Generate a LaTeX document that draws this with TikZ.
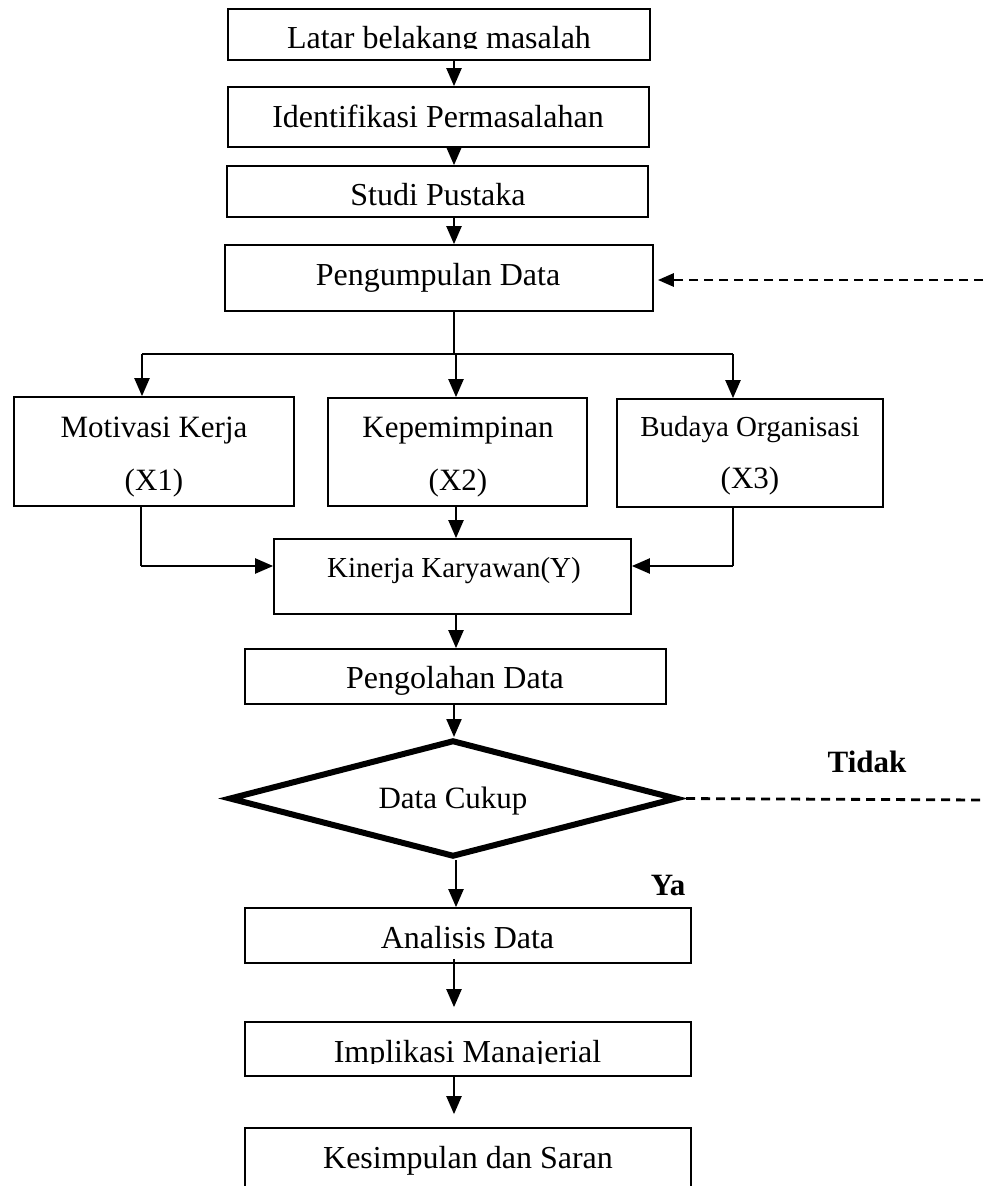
\documentclass[tikz,border=0pt]{standalone}
\usepackage{fontspec}
\setmainfont{Liberation Serif}
\usetikzlibrary{arrows.meta,shapes.geometric}
\begin{document}
\begin{tikzpicture}[x=1pt,y=-1pt,
  boxstyle/.style={draw,line width=1.7pt,inner sep=0pt},
  lbl/.style={anchor=base,inner sep=0pt,font=\fontsize{32}{38}\selectfont},
  lblmid/.style={anchor=base,inner sep=0pt,font=\fontsize{31}{37}\selectfont},
  lblsm/.style={anchor=base,inner sep=0pt,font=\fontsize{29}{35}\selectfont},
  lblbold/.style={anchor=base,inner sep=0pt,font=\fontsize{31}{37}\selectfont\bfseries},
  line/.style={line width=2.2pt},
  arr/.style={line width=2.2pt,-{Triangle[length=18pt,width=15pt]}},
  dashline/.style={line width=2.8pt,dash pattern=on 9pt off 6pt}]
\useasboundingbox (0,0) rectangle (983,1186);
\clip (0,0) rectangle (983,1186);
% boxes
\node[boxstyle,minimum width=422pt,minimum height=51pt] (b1) at (439,34.5) {};
\node[boxstyle,minimum width=421pt,minimum height=60pt] (b2) at (438.5,117) {};
\node[boxstyle,minimum width=421pt,minimum height=51pt] (b3) at (437.5,191.5) {};
\node[boxstyle,minimum width=428pt,minimum height=66pt] (b4) at (439,278) {};
\node[boxstyle,minimum width=280pt,minimum height=109pt] (x1) at (154,451.5) {};
\node[boxstyle,minimum width=259pt,minimum height=108pt] (x2) at (457.5,452) {};
\node[boxstyle,minimum width=266pt,minimum height=108pt] (x3) at (750,453) {};
\node[boxstyle,minimum width=357pt,minimum height=75pt] (ky) at (452.5,576.5) {};
\node[boxstyle,minimum width=421pt,minimum height=55pt] (pg) at (455.5,676.5) {};
\node[draw,diamond,line width=6pt,inner sep=0pt,minimum width=448pt,minimum height=117pt] (dc) at (453,798.5) {};
\node[boxstyle,minimum width=446pt,minimum height=55pt] (an) at (468,935.5) {};
\node[boxstyle,minimum width=446pt,minimum height=54pt] (im) at (468,1049) {};
\node[boxstyle,minimum width=446pt,minimum height=80pt] (ks) at (468,1168) {};
% texts
\begin{scope}
\clip (b1.north west) rectangle (650,48.5);
\node[lbl] (t1) at (439,48) {Latar belakang masalah};
\end{scope}
\node[lbl] (t2) at (438,127) {Identifikasi Permasalahan};
\node[lbl] (t3) at (438,205) {Studi Pustaka};
\node[lbl] (t4) at (438,285) {Pengumpulan Data};
\node[lblmid] (t5a) at (154,437) {Motivasi Kerja};
\node[lblmid] (t5b) at (154,490) {(X1)};
\node[lblmid] (t6a) at (458,437) {Kepemimpinan};
\node[lblmid] (t6b) at (458,490) {(X2)};
\node[lblsm] (t7a) at (750,436) {Budaya Organisasi};
\node[lblmid] (t7b) at (750,488) {(X3)};
\node[lblsm] (t8) at (454,577) {Kinerja Karyawan(Y)};
\node[lbl] (t9) at (455,688) {Pengolahan Data};
\node[lblmid] (t10) at (453,808) {Data Cukup};
\node[lblbold] (tidak) at (867,772) {Tidak};
\node[lblbold] (ya) at (668,895) {Ya};
\node[lbl] (t11) at (467.5,948) {Analisis Data};
\begin{scope}
\clip (im.north west) rectangle (691,1063);
\node[lbl] (t12) at (467.5,1062) {Implikasi Manajerial};
\end{scope}
\node[lbl] (t13) at (468,1168) {Kesimpulan dan Saran};
% coordinates
\coordinate (col) at (454,0);
\coordinate (col2) at (456,0);
\coordinate (split) at (454,354);
\coordinate (hl) at (142,354);
\coordinate (hr) at (733,354);
\coordinate (jl) at (141,566);
\coordinate (jr) at (733,566);
\coordinate (edgeA) at (983,280);
\coordinate (edgeB) at (983,800);
% connectors
\draw[arr] (b1.south -| col) -- (b2.north -| col);
\draw[arr] (b2.south -| col) -- (b3.north -| col);
\draw[arr] (b3.south -| col) -- (b4.north -| col);
\draw[line] (b4.south -| col) -- (split);
\draw[line] (hl) -- (hr);
\draw[arr] (hl) -- (x1.north -| hl);
\draw[arr] (split -| col2) -- (x2.north -| col2);
\draw[arr] (hr) -- (x3.north -| hr);
\draw[line] (x1.south -| jl) -- (jl);
\draw[arr] (jl) -- (ky.west |- jl);
\draw[line] (x3.south -| jr) -- (jr);
\draw[arr] (jr) -- (ky.east |- jr);
\draw[arr] (x2.south -| col2) -- (ky.north -| col2);
\draw[arr] (ky.south -| col2) -- (pg.north -| col2);
\draw[arr] (pg.south -| col) -- (dc.north -| col);
\draw[arr] (dc.south -| col2) -- (an.north -| col2);
\draw[arr,shorten <=-5pt,shorten >=14pt] (an.south -| col) -- (im.north -| col);
\draw[arr,shorten >=13pt] (im.south -| col) -- (ks.north -| col);
\draw[dashline,shorten <=6pt] (dc.east) -- (edgeB);
\draw[dashline,shorten >=4pt,-{Triangle[length=16pt,width=13pt]}] (edgeA) -- (b4.east |- edgeA);
\end{tikzpicture}
\end{document}
